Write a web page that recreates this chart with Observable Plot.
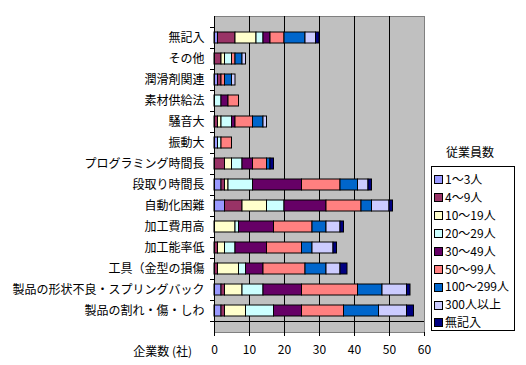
<!DOCTYPE html>
<html><head><meta charset="utf-8">
<script src="https://cdn.jsdelivr.net/npm/d3@7"></script>
<script src="https://cdn.jsdelivr.net/npm/@observablehq/plot@0.6"></script>
<style>
body{margin:0;background:#fff;font-family:"Noto Sans CJK JP",sans-serif;}
#wrap{position:relative;width:526px;height:365px;}
.lbl{position:absolute;font-size:12px;color:#000;white-space:nowrap;}
#legend{position:absolute;left:431px;top:166px;width:84px;height:165px;border:1px solid #000;background:#fff;box-sizing:border-box;}
.item{position:absolute;left:2px;font-size:12px;height:18px;line-height:18px;white-space:nowrap;}
.sw{display:inline-block;width:7px;height:7px;border:1px solid #000;margin-right:2px;vertical-align:middle;position:relative;top:-1px;}
</style></head>
<body><div id="wrap"></div>
<script>
const categories = ["無記入","その他","潤滑剤関連","素材供給法","騒音大","振動大","プログラミング時間長","段取り時間長","自動化困難","加工費用高","加工能率低","工具（金型の損傷","製品の形状不良・スプリングバック","製品の割れ・傷・しわ"];
const groups = ["1〜3人","4〜9人","10〜19人","20〜29人","30〜49人","50〜99人","100〜299人","300人以上","無記入"];
const colors = ["#9999ff","#993366","#ffffcc","#ccffff","#660066","#ff8080","#0066cc","#ccccff","#000080"];
const s1 = [1,0,1,0,0,1,0,2,3,0,0,0,2,2];
const s2 = [5,2,1,0,1,0,3,1,5,0,1,1,1,1];
const s3 = [6,1,0,0,1,0,2,1,7,6,2,6,5,6];
const s4 = [2,2,0,2,3,1,3,7,5,1,3,2,6,8];
const s5 = [2,0,0,2,1,0,3,14,12,10,9,5,11,8];
const s6 = [4,1,1,3,5,3,4,11,10,11,10,12,16,12];
const s7 = [6,2,2,0,3,0,1,5,3,4,3,6,7,10];
const s8 = [3,1,1,0,1,0,0,3,5,4,6,4,7,8];
const s9 = [1,0,0,0,0,0,1,1,1,1,1,2,1,2];
const xTicks = [0,10,20,30,40,50,60];
const series = [s1,s2,s3,s4,s5,s6,s7,s8,s9];

const data = [];
categories.forEach((c,i)=>{
  series.forEach((s,g)=>{ if(s[i]>0) data.push({cat:c, group:groups[g], value:s[i]}); });
});

const plot = Plot.plot({
  width:526, height:365,
  marginLeft:214, marginRight:102, marginTop:16, marginBottom:33,
  style:{fontFamily:'"Noto Sans CJK JP",sans-serif', fontSize:"12px", background:"transparent", overflow:"visible"},
  x:{domain:[0,60], ticks:xTicks},
  y:{domain:categories, padding:0.5},
  color:{domain:groups, range:colors},
  marks:[
    Plot.frame({fill:"#c0c0c0", stroke:"#808080"}),
    Plot.ruleX(xTicks.slice(1,-1), {stroke:"#000", strokeWidth:1}),
    Plot.barX(data, Plot.stackX({x:"value", y:"cat", fill:"group", stroke:"#000", strokeWidth:1})),
    Plot.ruleX([0], {stroke:"#000"}),
    Plot.axisX({ticks:xTicks, tickSize:4, tickPadding:9, fontSize:12, tickFormat:d=>String(d), label:null}),
    Plot.axisY({tickSize:0, tickPadding:10, fontSize:12, label:null})
  ]
});
document.getElementById("wrap").appendChild(plot);

// category boundary ticks and bottom axis line
const ys = plot.scale("y"), xs = plot.scale("x");
const step = ys.apply(categories[1]) - ys.apply(categories[0]);
const x0 = xs.apply(0), x1 = xs.apply(60);
const svg = d3.select(plot);
const g = svg.append("g").attr("stroke","#000");
const top0 = ys.apply(categories[0]) + ys.bandwidth/2 - step/2;
d3.range(categories.length+1).forEach(i=>{
  const y = Math.round(top0 + i*step) + 0.5;
  g.append("line").attr("x1",x0-4).attr("x2",x0).attr("y1",y).attr("y2",y);
});
const yb = Math.round(top0 + categories.length*step) + 0.5;
g.append("line").attr("x1",x0).attr("x2",x1).attr("y1",yb).attr("y2",yb);

// axis title
const wrap = document.getElementById("wrap");
const t = document.createElement("div"); t.className="lbl"; t.textContent="企業数 (社)";
t.style.right=(526-192)+"px"; t.style.top="342px"; wrap.appendChild(t);
const lt = document.createElement("div"); lt.className="lbl"; lt.textContent="従業員数";
lt.style.left="446px"; lt.style.top="143px"; wrap.appendChild(lt);
// legend
const lg = document.createElement("div"); lg.id="legend"; wrap.appendChild(lg);
groups.forEach((gname,i)=>{
  const it = document.createElement("div"); it.className="item"; it.style.top=(3+i*17.9)+"px";
  const sw = document.createElement("span"); sw.className="sw"; sw.style.background=colors[i];
  it.appendChild(sw); it.appendChild(document.createTextNode(gname)); lg.appendChild(it);
});
</script></body></html>
